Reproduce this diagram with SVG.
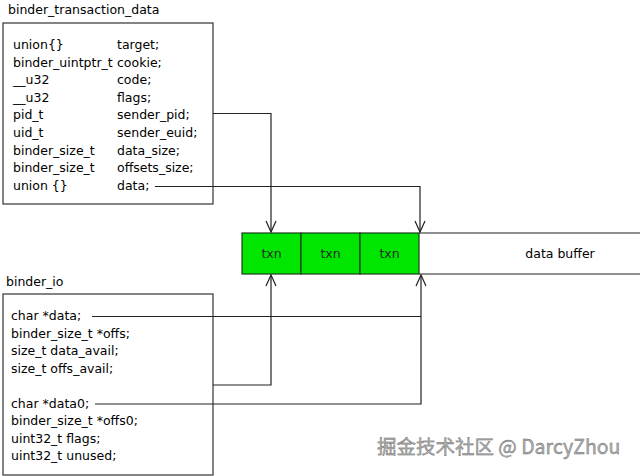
<svg xmlns="http://www.w3.org/2000/svg" width="640" height="476" viewBox="0 0 640 476">
<defs>
<style>
text{font-family:"DejaVu Sans","Liberation Sans",sans-serif;font-size:12.5px;fill:#000}
.box{fill:#fff;stroke:#333;stroke-width:1.2}
.txn{fill:#00e600;stroke:#1d3b1d;stroke-width:1.2}
.tx{fill:#1e331e;text-anchor:middle}
.ln{fill:none;stroke:#222;stroke-width:1.2}
.wm{font-family:"Noto Sans CJK SC","DejaVu Sans",sans-serif;font-size:19.5px;fill:#b0b0b0;stroke:#6a6a6a;stroke-width:0.4}
</style>
<marker id="arr" markerUnits="userSpaceOnUse" markerWidth="14" markerHeight="14" viewBox="-1 -7 13 14" refX="11" refY="0" orient="auto">
<path d="M0,-5 L11,0 L0,5" fill="none" stroke="#222" stroke-width="1.2"/>
</marker>
</defs>
<rect width="640" height="476" fill="#fff"/>

<g id="binder_transaction_data">
<text x="8" y="14">binder_transaction_data</text>
<rect class="box" x="3" y="23" width="210" height="181"/>
<text x="13" y="49">union{}</text><text x="117" y="49">target;</text>
<text x="13" y="66.6">binder_uintptr_t</text><text x="117" y="66.6">cookie;</text>
<text x="13" y="84.2">__u32</text><text x="117" y="84.2">code;</text>
<text x="13" y="101.8">__u32</text><text x="117" y="101.8">flags;</text>
<text x="13" y="119.4">pid_t</text><text x="117" y="119.4">sender_pid;</text>
<text x="13" y="137">uid_t</text><text x="117" y="137">sender_euid;</text>
<text x="13" y="154.6">binder_size_t</text><text x="117" y="154.6">data_size;</text>
<text x="13" y="172.2">binder_size_t</text><text x="117" y="172.2">offsets_size;</text>
<text x="13" y="189.8">union {}</text><text x="117" y="189.8">data;</text>
</g>

<g id="binder_io">
<text x="6" y="286">binder_io</text>
<rect class="box" x="3" y="294" width="210" height="181"/>
<text x="11" y="320">char *data;</text>
<text x="11" y="337.5">binder_size_t *offs;</text>
<text x="11" y="355">size_t data_avail;</text>
<text x="11" y="372.5">size_t offs_avail;</text>
<text x="11" y="407.5">char *data0;</text>
<text x="11" y="425">binder_size_t *offs0;</text>
<text x="11" y="442.5">uint32_t flags;</text>
<text x="11" y="460">uint32_t unused;</text>
</g>

<g id="txn1"><rect class="txn" x="242" y="233" width="59" height="41"/><text class="tx" x="271.5" y="258">txn</text></g>
<g id="txn2"><rect class="txn" x="301" y="233" width="59" height="41"/><text class="tx" x="330.5" y="258">txn</text></g>
<g id="txn3"><rect class="txn" x="360" y="233" width="59" height="41"/><text class="tx" x="389.5" y="258">txn</text></g>

<g id="data_buffer">
<path class="ln" d="M419,233 H640 M419,274 H640"/>
<text x="560" y="258" text-anchor="middle">data buffer</text>
</g>

<g id="connectors">
<path class="ln" d="M213,113.5 H271 V232" marker-end="url(#arr)"/>
<path class="ln" d="M155,186.5 H420 V232" marker-end="url(#arr)"/>
<path class="ln" d="M92,316.5 H421"/>
<path class="ln" d="M213,385 H271 V275" marker-end="url(#arr)"/>
<path class="ln" d="M95,404 H421 V275" marker-end="url(#arr)"/>
</g>

<text class="wm" x="377" y="454">掘金技术社区 @ DarcyZhou</text>
</svg>
